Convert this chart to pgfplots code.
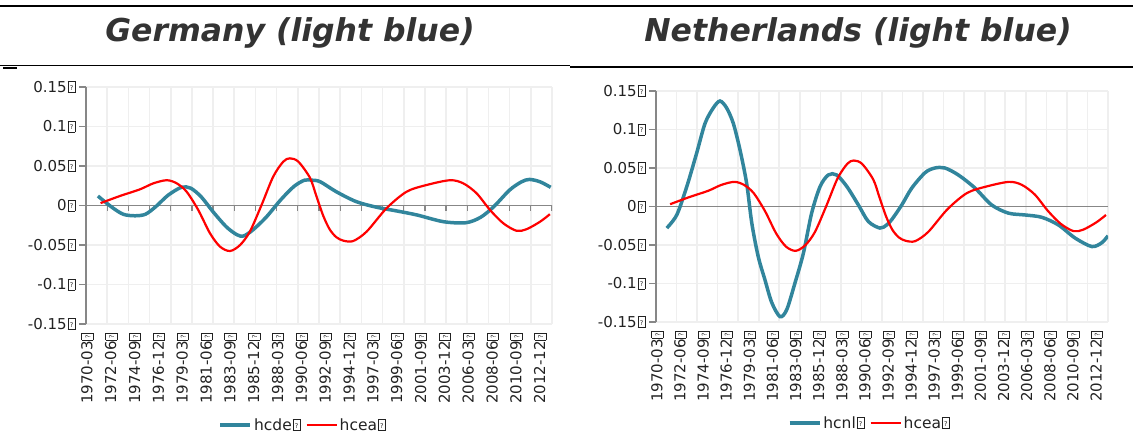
\documentclass[border=0pt]{standalone}
\usepackage{pgfplots}
\pgfplotsset{compat=1.18}
\usepackage{fontspec}
\setmainfont{DejaVu Sans}
\definecolor{hcblue}{HTML}{31859C}
\definecolor{gridc}{HTML}{EFEFEF}
\definecolor{axc}{HTML}{878787}
\definecolor{txt}{HTML}{222222}
\definecolor{ttl}{HTML}{333333}
\newcommand\qb{{\fboxsep=0.4pt\fboxrule=0.55pt\kern0.8pt\fbox{\rule{0pt}{10pt}\makebox[6pt]{\raisebox{2pt}{\fontsize{6.5}{6.5}\selectfont ?}}}}}
\pgfplotsset{
  mystyle/.style={
    scale only axis,
    xmin=0, xmax=176, ymin=-0.15, ymax=0.15,
    axis x line*=bottom, axis y line*=left,
    x axis line style={draw=none},
    y axis line style={draw=axc, line width=1.2pt, -},
    ytick={-0.15,-0.1,-0.05,0,0.05,0.1,0.15},
    yticklabels={-0.15\qb,-0.1\qb,-0.05\qb,0\qb,0.05\qb,0.1\qb,0.15\qb},
    ymajorgrids,
    major grid style={draw=gridc, line width=1.6pt},
    xtick={0.5,9.5,18.5,27.5,36.5,45.5,54.5,63.5,72.5,81.5,90.5,99.5,108.5,117.5,126.5,135.5,144.5,153.5,162.5,171.5},
    xticklabels={1970-03\qb,1972-06\qb,1974-09\qb,1976-12\qb,1979-03\qb,1981-06\qb,1983-09\qb,1985-12\qb,1988-03\qb,1990-06\qb,1992-09\qb,1994-12\qb,1997-03\qb,1999-06\qb,2001-09\qb,2003-12\qb,2006-03\qb,2008-06\qb,2010-09\qb,2012-12\qb},
    minor xtick={0,8,16,24,32,40,48,56,64,72,80,88,96,104,112,120,128,136,144,152,160,168,176},
    xminorgrids,
    minor grid style={draw=gridc, line width=1.6pt},
    minor tick length=0pt,
    xtick style={draw=none},
    ytick style={draw=axc, line width=1.2pt},
    tick align=outside,
    major tick length=7pt,
    tick label style={font=\fontsize{15}{15}\selectfont, text=txt},
    x tick label style={rotate=90, anchor=east, xshift=2pt},
    legend columns=2,
    legend style={draw=none, fill=none, font=\fontsize{15.5}{15.5}\selectfont, text=txt,
      /tikz/every even column/.append style={column sep=3pt}},
    legend image code/.code={\draw[#1] (0pt,0pt) -- (30pt,0pt);},
  }
}
\begin{document}
\begin{tikzpicture}
\useasboundingbox (0pt,0pt) rectangle (1133pt,439pt);
% header lines
\draw[line width=1.8pt] (0pt,433.3pt) -- (1133pt,433.3pt);
\draw[line width=1.3pt] (0pt,373.7pt) -- (570pt,373.7pt);
\fill (3pt,370pt) rectangle (17pt,372.3pt);
\draw[line width=1.8pt] (570pt,372.3pt) -- (1133pt,372.3pt);
\node[anchor=base, text=ttl, font=\fontsize{31.5}{31.5}\selectfont\bfseries\itshape] at (290pt,397pt) {Germany (light blue)};
\node[anchor=base, text=ttl, font=\fontsize{31.5}{31.5}\selectfont\bfseries\itshape] at (858pt,397pt) {Netherlands (light blue)};

% Germany
\begin{axis}[mystyle, at={(86pt,115pt)}, anchor=south west, width=466pt, height=237pt,
  legend style={at={(0.466,-0.426)}, anchor=center}]
\addplot[axc, line width=1.5pt, forget plot] coordinates {(0,0) (176,0)};
\addplot[ycomb, draw=axc, line width=1.2pt, no marks, forget plot] coordinates {
(0,-0.0065) (8,-0.0065) (16,-0.0065) (24,-0.0065) (32,-0.0065) (40,-0.0065) (48,-0.0065) (56,-0.0065) (64,-0.0065) (72,-0.0065) (80,-0.0065) (88,-0.0065) (96,-0.0065) (104,-0.0065) (112,-0.0065) (120,-0.0065) (128,-0.0065) (136,-0.0065) (144,-0.0065) (152,-0.0065) (160,-0.0065) (168,-0.0065) (176,-0.0065)};
\addplot[hcblue, line width=3.5pt, smooth] coordinates {
(4.5,0.012) (9.5,-0.0015) (14,-0.011) (18.5,-0.013) (22.5,-0.011) (26.5,-0.001) (31,0.013) (36,0.023) (39.5,0.022) (43.5,0.011) (48,-0.008) (53,-0.027) (57,-0.037) (59.5,-0.0386) (63,-0.031) (68,-0.015) (73.5,0.007) (78.5,0.024) (82.5,0.032) (85.5,0.032) (88.5,0.030) (94.5,0.0175) (102,0.005) (109.5,-0.002) (117.5,-0.007) (125,-0.012) (135,-0.0205) (143.5,-0.0218) (149,-0.015) (154,-0.0015) (160,0.0196) (164.5,0.030) (167.5,0.033) (171.5,0.030) (175.5,0.023)};
\addlegendentry{hcde\qb}
\addplot[red, line width=2.2pt, smooth] coordinates {
(5.5,0.003) (12.8,0.012) (20.4,0.0205) (25.4,0.028) (30.5,0.032) (34.3,0.028) (38,0.0175) (42.4,-0.0057) (46.8,-0.035) (50.6,-0.052) (54.4,-0.0576) (58.2,-0.050) (61.9,-0.033) (66.3,0.0006) (70.7,0.0365) (74.5,0.0555) (77,0.0597) (80.2,0.0555) (84.6,0.035) (87,0.012) (89.6,-0.013) (92,-0.03) (94.5,-0.040) (97.2,-0.0445) (100.9,-0.045) (106,-0.033) (113.5,-0.0035) (121.1,0.0175) (128.7,0.026) (137.5,0.032) (142.5,0.028) (147.5,0.0155) (152.6,-0.0057) (157.6,-0.0225) (162.6,-0.032) (166.4,-0.030) (171.5,-0.0205) (175.2,-0.011)};
\addlegendentry{hcea\qb}
\end{axis}

% Netherlands
\begin{axis}[mystyle, at={(656pt,117pt)}, anchor=south west, width=452pt, height=231pt,
  legend style={at={(0.473,-0.437)}, anchor=center}]
\addplot[axc, line width=1.5pt, forget plot] coordinates {(0,0) (176,0)};
\addplot[hcblue, line width=3.5pt, smooth] coordinates {
(4.2,-0.028) (8.1,-0.0108) (12,0.026) (15.8,0.069) (19.1,0.108) (22.3,0.128) (24.9,0.137) (27.5,0.128) (30.1,0.108) (32.7,0.0736) (35.3,0.030) (37.3,-0.0216) (39.8,-0.065) (42.4,-0.095) (45.1,-0.125) (48.3,-0.143) (50.9,-0.134) (54.1,-0.0995) (57.4,-0.0605) (60.6,-0.0086) (63.9,0.026) (67.1,0.041) (70.3,0.041) (74.3,0.026) (78.8,0.002) (82.7,-0.0195) (87.2,-0.028) (89.8,-0.024) (91.8,-0.017) (95.7,0.002) (99.6,0.024) (104.8,0.044) (108.6,0.050) (112.5,0.050) (117.7,0.041) (124.2,0.024) (130.7,0.002) (137.2,-0.0086) (143.7,-0.011) (150.2,-0.014) (156.7,-0.024) (163.2,-0.041) (169.7,-0.052) (173.6,-0.047) (176,-0.038)};
\addlegendentry{hcnl\qb}
\addplot[red, line width=2.2pt, smooth] coordinates {
(5.5,0.003) (12.8,0.012) (20.4,0.0205) (25.4,0.028) (30.5,0.032) (34.3,0.028) (38,0.0175) (42.4,-0.0057) (46.8,-0.035) (50.6,-0.052) (54.4,-0.0576) (58.2,-0.050) (61.9,-0.033) (66.3,0.0006) (70.7,0.0365) (74.5,0.0555) (77,0.0597) (80.2,0.0555) (84.6,0.035) (87,0.012) (89.6,-0.013) (92,-0.03) (94.5,-0.040) (97.2,-0.0445) (100.9,-0.045) (106,-0.033) (113.5,-0.0035) (121.1,0.0175) (128.7,0.026) (137.5,0.032) (142.5,0.028) (147.5,0.0155) (152.6,-0.0057) (157.6,-0.0225) (162.6,-0.032) (166.4,-0.030) (171.5,-0.0205) (175.2,-0.011)};
\addlegendentry{hcea\qb}
\end{axis}
\end{tikzpicture}
\end{document}
